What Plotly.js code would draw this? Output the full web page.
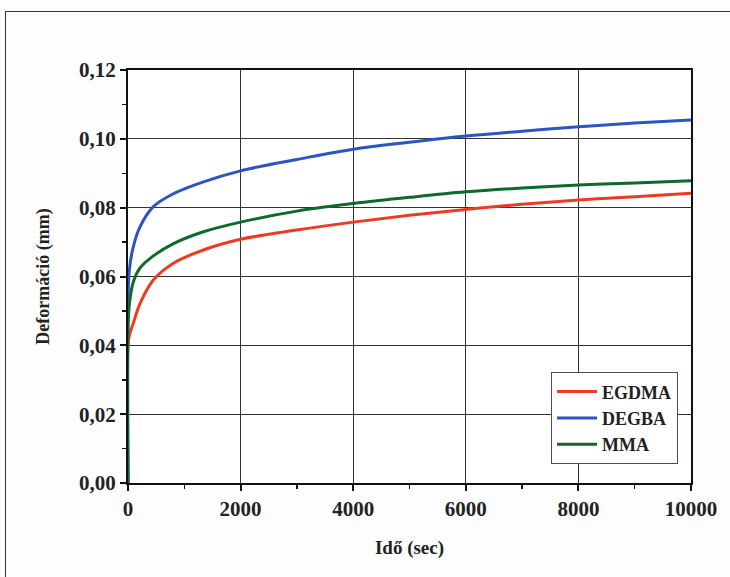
<!DOCTYPE html>
<html>
<head>
<meta charset="utf-8">
<script src="https://cdn.plot.ly/plotly-3.0.1.min.js"></script>
<style>
  html, body { margin: 0; padding: 0; background: #fdfdfd; }
  #frame { position: absolute; left: 5px; top: 11px; width: 740px; height: 580px; border: 1.5px solid #333; }
  #chart { position: absolute; left: 0; top: 0; width: 730px; height: 577px; }
</style>
</head>
<body>
<div id="frame"></div>
<div id="chart"></div>
<script>
// time (sec)
const time  = [0, 0, 25, 95, 215, 450, 800, 1340, 2000, 3000, 4000, 5000, 6000, 7000, 8000, 9000, 10000];
// deformation (mm)
const egdma = [0, 0.040, 0.0430, 0.0465, 0.0522, 0.0590, 0.0638, 0.0677, 0.0708, 0.0735, 0.0758, 0.0778, 0.0795, 0.0810, 0.0822, 0.0832, 0.0842];
const degba = [0, 0.052, 0.0620, 0.0687, 0.0745, 0.0803, 0.0840, 0.0875, 0.0907, 0.0940, 0.0970, 0.0990, 0.1008, 0.1022, 0.1035, 0.1046, 0.1055];
const mma   = [0, 0.045, 0.0520, 0.0585, 0.0625, 0.0660, 0.0695, 0.0730, 0.0758, 0.0790, 0.0812, 0.0830, 0.0846, 0.0857, 0.0866, 0.0872, 0.0878];
const seriesNames = ['EGDMA', 'DEGBA', 'MMA'];
const colors = ['#ee3a22', '#2b55c2', '#0b6a2c'];
const xTicks = [0, 2000, 4000, 6000, 8000, 10000];
const yTicks = [0, 0.02, 0.04, 0.06, 0.08, 0.10, 0.12];

const ys = [egdma, degba, mma];
const traces = ys.map((y, i) => ({
  x: time, y: y, type: 'scatter', mode: 'lines', name: seriesNames[i],
  line: { color: colors[i], width: 3, shape: 'spline', smoothing: 1 }
}));

const fam = 'Liberation Serif, Times New Roman, serif';
const layout = {
  width: 730, height: 577,
  margin: { l: 128, r: 39, t: 70, b: 94 },
  paper_bgcolor: 'rgba(0,0,0,0)',
  plot_bgcolor: '#ffffff',
  separators: ',.',
  font: { family: fam, color: '#222' },
  showlegend: true,
  legend: {
    x: 0.751, y: 0.157, xanchor: 'left', yanchor: 'middle',
    bgcolor: '#ffffff', bordercolor: '#5a4a48', borderwidth: 1.2,
    font: { family: fam, size: 18, color: '#222', weight: 'bold' },
    tracegroupgap: 0, itemwidth: 40
  },
  xaxis: {
    range: [0, 10000], tickvals: xTicks, ticktext: xTicks.map(String),
    showline: true, linecolor: '#111', linewidth: 2, mirror: true,
    ticks: 'outside', ticklen: 6, tickwidth: 2, tickcolor: '#111',
    showgrid: true, gridcolor: '#333', gridwidth: 1,
    zeroline: false,
    minor: { dtick: 1000, ticks: 'outside', ticklen: 4, tickwidth: 1.5, tickcolor: '#111', showgrid: false },
    tickfont: { family: fam, size: 21, color: '#222', weight: 'bold' },
    title: { text: 'Idő (sec)', font: { family: fam, size: 19, color: '#222', weight: 'bold' }, standoff: 20 }
  },
  yaxis: {
    range: [0, 0.12], tickvals: yTicks, tickformat: '.2f',
    showline: true, linecolor: '#111', linewidth: 2, mirror: true,
    ticks: 'outside', ticklen: 6, tickwidth: 2, tickcolor: '#111',
    showgrid: true, gridcolor: '#333', gridwidth: 1,
    zeroline: false,
    minor: { dtick: 0.01, ticks: 'outside', ticklen: 4, tickwidth: 1.5, tickcolor: '#111', showgrid: false },
    tickfont: { family: fam, size: 21, color: '#222', weight: 'bold' },
    title: { text: 'Deformáció (mm)', font: { family: fam, size: 18, color: '#222', weight: 'bold' }, standoff: 25 }
  }
};

Plotly.newPlot('chart', traces, layout, { displayModeBar: false, staticPlot: true });
</script>
</body>
</html>
